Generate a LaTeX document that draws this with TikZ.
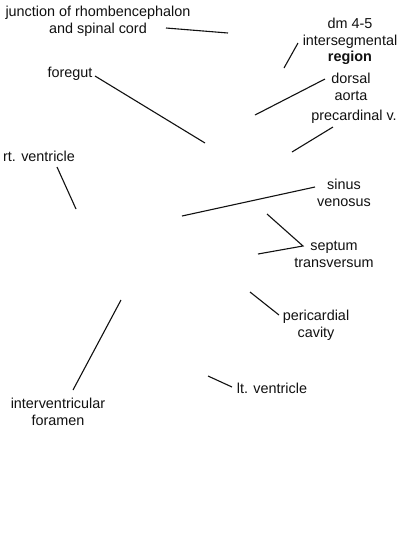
\documentclass[tikz,border=0pt]{standalone}
\usepackage{fontspec}
\setmainfont{Liberation Sans}
\usetikzlibrary{positioning}
\definecolor{Ink}{HTML}{111111}
\tikzset{
  part label/.style={font=\fontsize{14.4}{16.8}\selectfont, align=center, text=Ink, inner sep=0pt},
  pointer/.style={draw=Ink, line width=1.1pt},
}

\begin{document}
\begin{tikzpicture}[x=1pt, y=-1pt]
  \useasboundingbox[fill=white] (0,0) rectangle (400,550);

  % Labels, placed where the reference prints them.
  \node[part label] (junction) at (98,21.5) {junction of rhombencephalon\\and spinal cord};
  \node[part label] (dm) at (350,41.5) {dm 4-5\\intersegmental\\\textbf{region}};
  \node[part label] (foregut) at (70,73.5) {foregut};
  \node[part label] (aorta) at (351,86.5) {dorsal\\aorta};
  \node[part label] (precardinal) at (354,117) {precardinal v.};
  \node[part label] (rtvent) at (39,156.5) {rt. ventricle};
  \node[part label] (sinus) at (344,192.5) {sinus\\venosus};
  \node[part label] (septum) at (334,254.5) {septum\\transversum};
  \node[part label] (pericardial) at (316,325) {pericardial\\cavity};
  \node[part label] (ltvent) at (272,388) {lt. ventricle};
  \node[part label] (foramen) at (58,411.5) {interventricular\\foramen};

  % Leader line ends.
  \coordinate (junction-a) at (166,28);   \coordinate (junction-b) at (228,33);
  \coordinate (dm-a) at (298,43);         \coordinate (dm-b) at (284,68);
  \coordinate (foregut-a) at (95,76);     \coordinate (foregut-b) at (205,143);
  \coordinate (aorta-a) at (325,79);      \coordinate (aorta-b) at (255,115);
  \coordinate (precardinal-a) at (333,127); \coordinate (precardinal-b) at (292,152);
  \coordinate (rtvent-a) at (57,167);     \coordinate (rtvent-b) at (76,209);
  \coordinate (sinus-a) at (315,187);     \coordinate (sinus-b) at (182,216);
  \coordinate (septum-a) at (303,246);    \coordinate (septum-b) at (267,214);
  \coordinate (septum-c) at (258,254);
  \coordinate (pericardial-a) at (279,315); \coordinate (pericardial-b) at (250,292);
  \coordinate (ltvent-a) at (232,387);    \coordinate (ltvent-b) at (208,376);
  \coordinate (foramen-a) at (73,390);    \coordinate (foramen-b) at (121,300);

  % Leader lines.
  \draw[pointer] (junction-a) -- (junction-b);
  \draw[pointer] (dm-a) -- (dm-b);
  \draw[pointer] (foregut-a) -- (foregut-b);
  \draw[pointer] (aorta-a) -- (aorta-b);
  \draw[pointer] (precardinal-a) -- (precardinal-b);
  \draw[pointer] (rtvent-a) -- (rtvent-b);
  \draw[pointer] (sinus-a) -- (sinus-b);
  \draw[pointer] (septum-b) -- (septum-a) -- (septum-c);
  \draw[pointer] (pericardial-a) -- (pericardial-b);
  \draw[pointer] (ltvent-a) -- (ltvent-b);
  \draw[pointer] (foramen-a) -- (foramen-b);
\end{tikzpicture}
\end{document}
